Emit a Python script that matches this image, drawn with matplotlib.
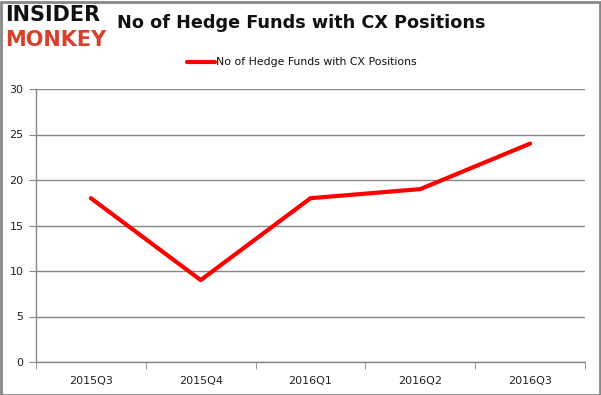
import matplotlib
matplotlib.use("Agg")
import matplotlib.pyplot as plt
from matplotlib.patches import Rectangle

categories = ["2015Q3", "2015Q4", "2016Q1", "2016Q2", "2016Q3"]
values = [18, 9, 18, 19, 24]
yticks = [0, 5, 10, 15, 20, 25, 30]
series_name = "No of Hedge Funds with CX Positions"
title = "No of Hedge Funds with CX Positions"

fig = plt.figure(figsize=(6.01, 3.95), dpi=100)
ax = fig.add_axes([36/601, 33/395, 549/601, 273/395])

x = list(range(len(categories)))
ax.plot(x, values, color="#ff0000", linewidth=3, solid_capstyle="round", solid_joinstyle="round")
ax.set_xlim(-0.5, len(categories) - 0.5)
ax.set_ylim(0, 30)
ax.set_yticks(yticks)
ax.set_yticklabels([str(v) for v in yticks], fontsize=8, color="#222222")
ax.set_xticks(x)
ax.set_xticklabels(categories, fontsize=8, color="#222222")
ax.set_xticks([i - 0.5 for i in range(len(categories) + 1)], minor=True)
ax.tick_params(axis="x", which="major", length=0, pad=10)
ax.tick_params(axis="x", which="minor", length=5, color="#888888", direction="out")
ax.tick_params(axis="y", length=5, color="#888888", direction="out", pad=4)
ax.grid(axis="y", color="#888888", linewidth=1)
ax.set_axisbelow(True)
for s in ["top", "right"]:
    ax.spines[s].set_visible(False)
for s in ["left", "bottom"]:
    ax.spines[s].set_color("#888888")
    ax.spines[s].set_linewidth(1)

# legend
fig.lines.append(plt.Line2D([187/601, 215/601], [1 - 62/395, 1 - 62/395], color="#ff0000", linewidth=3,
                            solid_capstyle="round", transform=fig.transFigure))
fig.text(216/601, 1 - 62/395, series_name, fontsize=7.8, va="center", ha="left", color="#111111")

# title
fig.text(301/601, 1 - 23/395, title, fontsize=12.7, fontweight="bold", ha="center", va="center", color="#111111")

# logo
fig.text(5/601, 1 - 15/395, "INSIDER", fontsize=15, fontweight="bold", ha="left", va="center", color="#111111",
         family="DejaVu Sans")
fig.text(5/601, 1 - 40/395, "MONKEY", fontsize=15, fontweight="bold", ha="left", va="center", color="#d9402b",
         family="DejaVu Sans")

# border
fig.patches.append(Rectangle((0.5/601, 0.5/395), 599/601, 393/395, transform=fig.transFigure,
                             fill=False, edgecolor="#888888", linewidth=2))

fig.savefig("out.png", dpi=100)
